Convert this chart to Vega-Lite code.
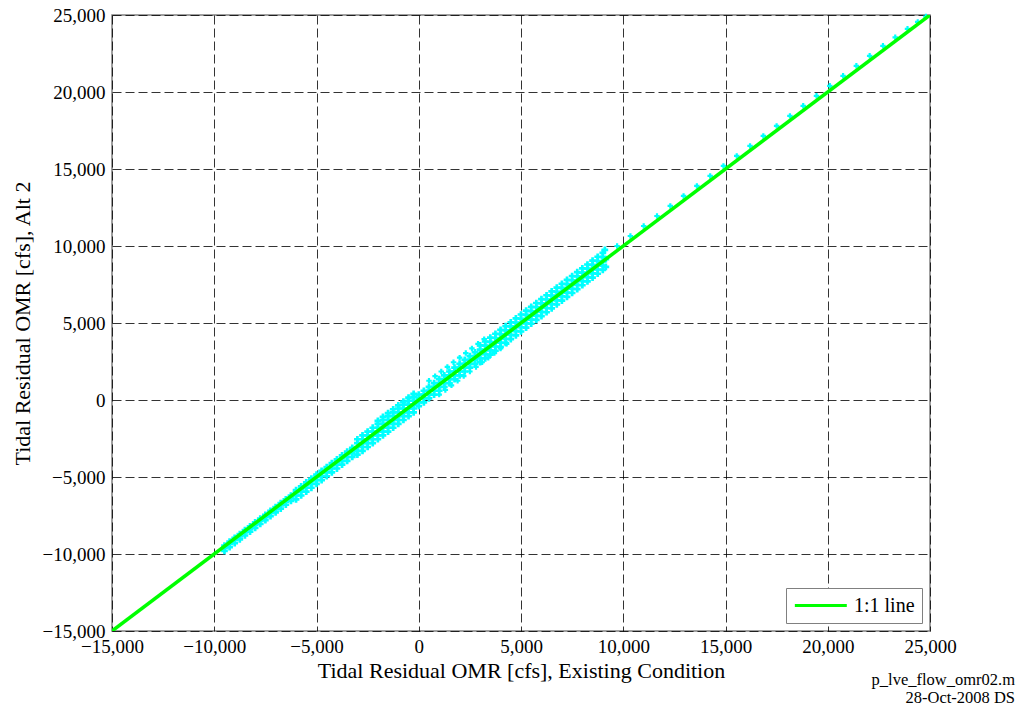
{
 "$schema": "https://vega.github.io/schema/vega-lite/v6.json",
 "width": 818,
 "height": 616,
 "autosize": {"type": "none"},
 "padding": {"left": 112, "top": 15, "right": 90, "bottom": 80},
 "background": "white",
 "config": {
  "font": "Liberation Serif, Times New Roman, DejaVu Serif, serif",
  "view": {"stroke": "#808080", "strokeWidth": 1.5},
  "axis": {"labelFont": "Liberation Serif, Times New Roman, DejaVu Serif, serif", "labelFontSize": 19, "labelColor": "black", "titleFont": "Liberation Serif, Times New Roman, DejaVu Serif, serif", "titleFontSize": 22, "titleFontWeight": "normal", "titleColor": "black", "grid": true, "gridColor": "black", "gridDash": [9, 4], "gridWidth": 1, "gridOpacity": 0.8, "ticks": false, "domain": false, "labelPadding": 5, "labelFlush": false, "labelOverlap": false},
  "legend": {"labelFont": "Liberation Serif, Times New Roman, DejaVu Serif, serif", "labelFontSize": 20, "labelColor": "black"}
 },
 "title": {"text": ["p_lve_flow_omr02.m", "28-Oct-2008 DS"], "orient": "bottom", "anchor": "end", "frame": "group", "font": "Liberation Serif, Times New Roman, DejaVu Serif, serif", "fontSize": 16.5, "fontWeight": "normal", "color": "black", "offset": -9, "dx": 85, "lineHeight": 18},
 "datasets": {
  "band": [
   {"x":-9500,"y":-9800},{"x":-9500,"y":-9600},{"x":-9500,"y":-9450},
   {"x":-9250,"y":-9550},{"x":-9250,"y":-9350},{"x":-9250,"y":-9200},
   {"x":-9000,"y":-9300},{"x":-9000,"y":-9100},{"x":-9000,"y":-8950},
   {"x":-8750,"y":-9050},{"x":-8750,"y":-8850},{"x":-8750,"y":-8700},
   {"x":-8500,"y":-8800},{"x":-8500,"y":-8600},{"x":-8500,"y":-8450},
   {"x":-8250,"y":-8550},{"x":-8250,"y":-8350},{"x":-8250,"y":-8200},
   {"x":-8000,"y":-8300},{"x":-8000,"y":-8100},{"x":-8000,"y":-7950},
   {"x":-7750,"y":-8050},{"x":-7750,"y":-7850},{"x":-7750,"y":-7700},
   {"x":-7500,"y":-7800},{"x":-7500,"y":-7600},{"x":-7500,"y":-7450},
   {"x":-7250,"y":-7550},{"x":-7250,"y":-7350},{"x":-7250,"y":-7200},
   {"x":-7000,"y":-7300},{"x":-7000,"y":-7100},{"x":-7000,"y":-6950},
   {"x":-6750,"y":-7050},{"x":-6750,"y":-6850},{"x":-6750,"y":-6700},
   {"x":-6500,"y":-6800},{"x":-6500,"y":-6600},{"x":-6500,"y":-6450},
   {"x":-6250,"y":-6550},{"x":-6250,"y":-6350},{"x":-6250,"y":-6200},
   {"x":-6000,"y":-6450},{"x":-6000,"y":-6200},{"x":-6000,"y":-6000},{"x":-6000,"y":-5850},
   {"x":-5750,"y":-6200},{"x":-5750,"y":-5950},{"x":-5750,"y":-5750},{"x":-5750,"y":-5600},
   {"x":-5500,"y":-5950},{"x":-5500,"y":-5700},{"x":-5500,"y":-5500},{"x":-5500,"y":-5350},
   {"x":-5250,"y":-5700},{"x":-5250,"y":-5450},{"x":-5250,"y":-5250},{"x":-5250,"y":-5100},
   {"x":-5000,"y":-5450},{"x":-5000,"y":-5200},{"x":-5000,"y":-5000},{"x":-5000,"y":-4850},
   {"x":-4750,"y":-5200},{"x":-4750,"y":-4950},{"x":-4750,"y":-4750},{"x":-4750,"y":-4600},
   {"x":-4500,"y":-4950},{"x":-4500,"y":-4700},{"x":-4500,"y":-4500},{"x":-4500,"y":-4350},
   {"x":-4250,"y":-4700},{"x":-4250,"y":-4450},{"x":-4250,"y":-4250},{"x":-4250,"y":-4100},
   {"x":-4000,"y":-4450},{"x":-4000,"y":-4200},{"x":-4000,"y":-4000},{"x":-4000,"y":-3850},
   {"x":-3750,"y":-4200},{"x":-3750,"y":-3950},{"x":-3750,"y":-3750},{"x":-3750,"y":-3600},
   {"x":-3500,"y":-3950},{"x":-3500,"y":-3700},{"x":-3500,"y":-3500},{"x":-3500,"y":-3350},
   {"x":-3250,"y":-3700},{"x":-3250,"y":-3450},{"x":-3250,"y":-3250},{"x":-3250,"y":-3100},
   {"x":-3000,"y":-3550},{"x":-3000,"y":-3300},{"x":-3000,"y":-3050},{"x":-3000,"y":-2800},{"x":-3000,"y":-2550},
   {"x":-2750,"y":-3300},{"x":-2750,"y":-3050},{"x":-2750,"y":-2800},{"x":-2750,"y":-2550},{"x":-2750,"y":-2300},
   {"x":-2500,"y":-3050},{"x":-2500,"y":-2800},{"x":-2500,"y":-2550},{"x":-2500,"y":-2300},{"x":-2500,"y":-2050},
   {"x":-2250,"y":-2800},{"x":-2250,"y":-2550},{"x":-2250,"y":-2300},{"x":-2250,"y":-2050},{"x":-2250,"y":-1800},
   {"x":-2000,"y":-2550},{"x":-2000,"y":-2300},{"x":-2000,"y":-2050},{"x":-2000,"y":-1800},{"x":-2000,"y":-1550},{"x":-2000,"y":-1350},
   {"x":-1750,"y":-2300},{"x":-1750,"y":-2050},{"x":-1750,"y":-1800},{"x":-1750,"y":-1550},{"x":-1750,"y":-1300},{"x":-1750,"y":-1100},
   {"x":-1500,"y":-2050},{"x":-1500,"y":-1800},{"x":-1500,"y":-1550},{"x":-1500,"y":-1300},{"x":-1500,"y":-1050},{"x":-1500,"y":-850},
   {"x":-1250,"y":-1800},{"x":-1250,"y":-1550},{"x":-1250,"y":-1300},{"x":-1250,"y":-1050},{"x":-1250,"y":-800},{"x":-1250,"y":-600},
   {"x":-1000,"y":-1550},{"x":-1000,"y":-1300},{"x":-1000,"y":-1050},{"x":-1000,"y":-800},{"x":-1000,"y":-550},{"x":-1000,"y":-350},
   {"x":-750,"y":-1300},{"x":-750,"y":-1050},{"x":-750,"y":-800},{"x":-750,"y":-550},{"x":-750,"y":-300},{"x":-750,"y":-100},
   {"x":-500,"y":-1050},{"x":-500,"y":-800},{"x":-500,"y":-550},{"x":-500,"y":-300},{"x":-500,"y":-50},{"x":-500,"y":150},
   {"x":-250,"y":-800},{"x":-250,"y":-550},{"x":-250,"y":-300},{"x":-250,"y":-50},{"x":-250,"y":200},{"x":-250,"y":400},
   {"x":0,"y":-400},{"x":0,"y":-150},{"x":0,"y":100},{"x":0,"y":350},
   {"x":250,"y":-150},{"x":250,"y":100},{"x":250,"y":350},{"x":250,"y":600},
   {"x":500,"y":100},{"x":500,"y":350},{"x":500,"y":600},{"x":500,"y":850},
   {"x":750,"y":350},{"x":750,"y":600},{"x":750,"y":850},{"x":750,"y":1100},
   {"x":1000,"y":600},{"x":1000,"y":850},{"x":1000,"y":1100},{"x":1000,"y":1350},
   {"x":1250,"y":850},{"x":1250,"y":1100},{"x":1250,"y":1350},{"x":1250,"y":1600},
   {"x":1500,"y":1100},{"x":1500,"y":1350},{"x":1500,"y":1600},{"x":1500,"y":1850},
   {"x":1750,"y":1350},{"x":1750,"y":1600},{"x":1750,"y":1850},{"x":1750,"y":2100},
   {"x":2000,"y":1600},{"x":2000,"y":1850},{"x":2000,"y":2100},{"x":2000,"y":2350},
   {"x":2250,"y":1850},{"x":2250,"y":2100},{"x":2250,"y":2350},{"x":2250,"y":2600},
   {"x":2500,"y":2100},{"x":2500,"y":2350},{"x":2500,"y":2600},{"x":2500,"y":2850},
   {"x":2750,"y":2350},{"x":2750,"y":2600},{"x":2750,"y":2850},{"x":2750,"y":3100},
   {"x":3000,"y":2450},{"x":3000,"y":2725},{"x":3000,"y":3000},{"x":3000,"y":3275},{"x":3000,"y":3550},
   {"x":3250,"y":2700},{"x":3250,"y":2975},{"x":3250,"y":3250},{"x":3250,"y":3525},{"x":3250,"y":3800},
   {"x":3500,"y":2950},{"x":3500,"y":3225},{"x":3500,"y":3500},{"x":3500,"y":3775},{"x":3500,"y":4050},
   {"x":3750,"y":3200},{"x":3750,"y":3475},{"x":3750,"y":3750},{"x":3750,"y":4025},{"x":3750,"y":4300},
   {"x":4000,"y":3450},{"x":4000,"y":3725},{"x":4000,"y":4000},{"x":4000,"y":4275},{"x":4000,"y":4550},
   {"x":4250,"y":3700},{"x":4250,"y":3975},{"x":4250,"y":4250},{"x":4250,"y":4525},{"x":4250,"y":4800},
   {"x":4500,"y":3950},{"x":4500,"y":4225},{"x":4500,"y":4500},{"x":4500,"y":4775},{"x":4500,"y":5050},
   {"x":4750,"y":4200},{"x":4750,"y":4475},{"x":4750,"y":4750},{"x":4750,"y":5025},{"x":4750,"y":5300},
   {"x":5000,"y":4450},{"x":5000,"y":4725},{"x":5000,"y":5000},{"x":5000,"y":5275},{"x":5000,"y":5550},
   {"x":5250,"y":4700},{"x":5250,"y":4975},{"x":5250,"y":5250},{"x":5250,"y":5525},{"x":5250,"y":5800},
   {"x":5500,"y":4950},{"x":5500,"y":5225},{"x":5500,"y":5500},{"x":5500,"y":5775},{"x":5500,"y":6050},
   {"x":5750,"y":5200},{"x":5750,"y":5475},{"x":5750,"y":5750},{"x":5750,"y":6025},{"x":5750,"y":6300},
   {"x":6000,"y":5450},{"x":6000,"y":5725},{"x":6000,"y":6000},{"x":6000,"y":6275},{"x":6000,"y":6550},
   {"x":6250,"y":5700},{"x":6250,"y":5975},{"x":6250,"y":6250},{"x":6250,"y":6525},{"x":6250,"y":6800},
   {"x":6500,"y":5950},{"x":6500,"y":6225},{"x":6500,"y":6500},{"x":6500,"y":6775},{"x":6500,"y":7050},
   {"x":6750,"y":6200},{"x":6750,"y":6475},{"x":6750,"y":6750},{"x":6750,"y":7025},{"x":6750,"y":7300},
   {"x":7000,"y":6450},{"x":7000,"y":6725},{"x":7000,"y":7000},{"x":7000,"y":7275},{"x":7000,"y":7550},
   {"x":7250,"y":6700},{"x":7250,"y":6975},{"x":7250,"y":7250},{"x":7250,"y":7525},{"x":7250,"y":7800},
   {"x":7500,"y":6950},{"x":7500,"y":7225},{"x":7500,"y":7500},{"x":7500,"y":7775},{"x":7500,"y":8050},
   {"x":7750,"y":7200},{"x":7750,"y":7475},{"x":7750,"y":7750},{"x":7750,"y":8025},{"x":7750,"y":8300},
   {"x":8000,"y":7450},{"x":8000,"y":7725},{"x":8000,"y":8000},{"x":8000,"y":8275},{"x":8000,"y":8550},
   {"x":8250,"y":7700},{"x":8250,"y":7975},{"x":8250,"y":8250},{"x":8250,"y":8525},{"x":8250,"y":8800},
   {"x":8500,"y":7950},{"x":8500,"y":8225},{"x":8500,"y":8500},{"x":8500,"y":8775},{"x":8500,"y":9050},
   {"x":8750,"y":8200},{"x":8750,"y":8475},{"x":8750,"y":8750},{"x":8750,"y":9025},{"x":8750,"y":9300},
   {"x":9000,"y":8450},{"x":9000,"y":8725},{"x":9000,"y":9000},{"x":9000,"y":9275},{"x":9000,"y":9550},
   {"x":9150,"y":8650},{"x":9150,"y":9150},{"x":9100,"y":9750}
  ],
  "sparse": [
   {"x":500,"y":1250},{"x":800,"y":1550},{"x":1100,"y":1850},{"x":1400,"y":2150},{"x":1700,"y":2450},{"x":2000,"y":2750},{"x":2300,"y":3050},{"x":2600,"y":3350},{"x":2900,"y":3650},{"x":3200,"y":3950},
   {"x":1000,"y":350},{"x":1300,"y":650},{"x":1600,"y":950},{"x":1900,"y":1250},{"x":2200,"y":1550},{"x":2500,"y":1850},{"x":2800,"y":2150},{"x":3100,"y":2450},{"x":3400,"y":2750},{"x":3700,"y":3050},{"x":4000,"y":3350},{"x":4300,"y":3650},
   {"x":9700,"y":10000},{"x":10350,"y":10650},{"x":11000,"y":11300},{"x":11650,"y":11950},{"x":12300,"y":12600},{"x":12950,"y":13250},{"x":13600,"y":13900},{"x":14250,"y":14550},{"x":14900,"y":15200},{"x":15550,"y":15850},{"x":16200,"y":16500},{"x":16850,"y":17150},{"x":17500,"y":17800},{"x":18150,"y":18450},{"x":18800,"y":19100},{"x":19450,"y":19750},{"x":20100,"y":20400},{"x":20750,"y":21050},{"x":21400,"y":21700},{"x":22050,"y":22350},{"x":22700,"y":23000},{"x":23300,"y":23550},{"x":23900,"y":24100},{"x":24400,"y":24550},{"x":24800,"y":24900}
  ],
  "oneone": [
   {"x":-15000,"y":-15000,"s":"1:1 line"},
   {"x":25000,"y":25000,"s":"1:1 line"}
  ]
 },
 "encoding": {
  "x": {"field": "x", "type": "quantitative", "scale": {"domain": [-15000, 25000], "nice": false, "zero": false}, "axis": {"title": "Tidal Residual OMR [cfs], Existing Condition", "values": [-15000, -10000, -5000, 0, 5000, 10000, 15000, 20000, 25000], "format": ",d", "labelPadding": 6, "titlePadding": 4}},
  "y": {"field": "y", "type": "quantitative", "scale": {"domain": [-15000, 25000], "nice": false, "zero": false}, "axis": {"title": "Tidal Residual OMR [cfs], Alt 2", "values": [-15000, -10000, -5000, 0, 5000, 10000, 15000, 20000, 25000], "format": ",d", "labelPadding": 7, "titlePadding": 8}}
 },
 "layer": [
  {"data": {"name": "band"}, "mark": {"type": "point", "shape": "cross", "size": 45, "color": "#00ffff", "opacity": 1, "filled": true}},
  {"data": {"name": "sparse"}, "mark": {"type": "point", "shape": "cross", "size": 30, "color": "#00ffff", "opacity": 1, "filled": true}},
  {"data": {"name": "oneone"}, "mark": {"type": "line", "strokeWidth": 3.5, "clip": true},
   "encoding": {"color": {"field": "s", "type": "nominal", "scale": {"range": ["#00ff00"]},
     "legend": {"title": null, "orient": "bottom-right", "offset": 8, "padding": 7, "strokeColor": "#808080", "fillColor": "white", "symbolType": "M-1,0H5", "symbolSize": 300, "symbolStrokeWidth": 3, "symbolStrokeColor": "#00ff00", "labelOffset": 40, "labelFontSize": 20, "labelExpr": "datum.label + '\u00a0\u00a0'"}}}}
 ]
}
